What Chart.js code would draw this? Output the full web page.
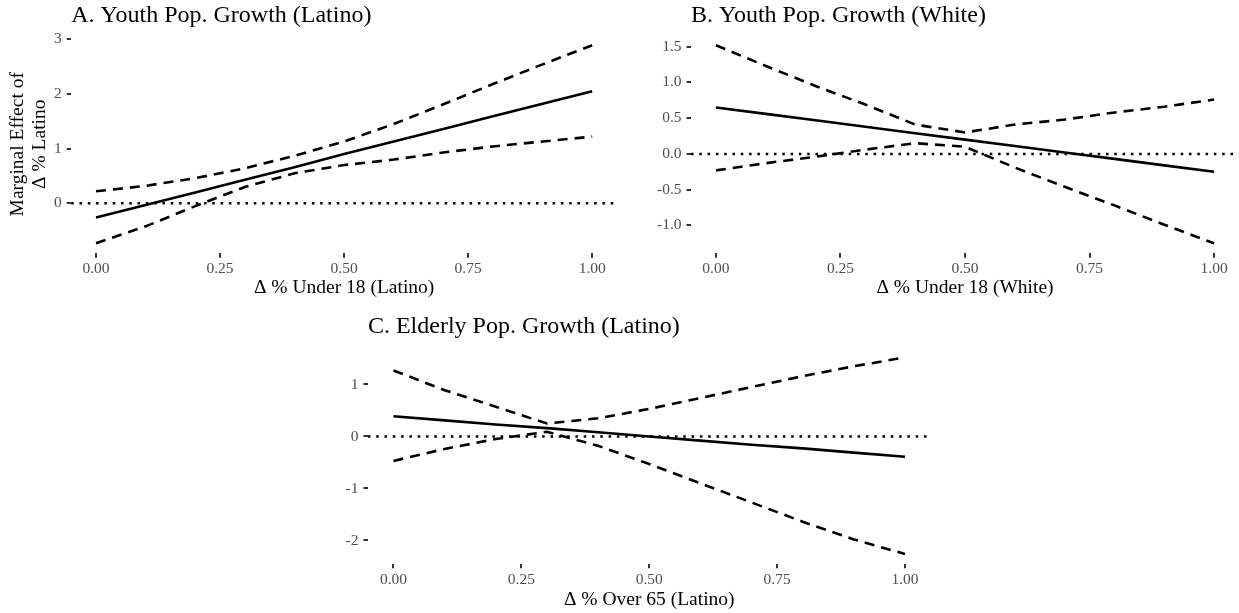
<!DOCTYPE html>
<html><head><meta charset="utf-8">
<script src="https://cdn.jsdelivr.net/npm/chart.js@4.4.1/dist/chart.umd.min.js"></script>
<style>
html,body{margin:0;padding:0;background:#fff;width:1239px;height:613px;overflow:hidden;position:relative}
canvas{position:absolute;display:block}
</style></head><body>
<canvas id="cA" width="617" height="300" style="left:0px;top:0px"></canvas>
<canvas id="cB" width="619" height="300" style="left:620px;top:0px"></canvas>
<canvas id="cC" width="631" height="313" style="left:300px;top:300px"></canvas>
<script>
// ---- data ----
const xValues = [0, 0.1, 0.2, 0.3, 0.4, 0.5, 0.6, 0.7, 0.8, 0.9, 1.0];
const xTicks = [0, 0.25, 0.5, 0.75, 1];

// Panel A: Youth Pop. Growth (Latino)
const estA   = [-0.26, -0.03, 0.20, 0.43, 0.66, 0.90, 1.13, 1.36, 1.59, 1.82, 2.05];
const upperA = [0.22, 0.32, 0.46, 0.64, 0.87, 1.13, 1.45, 1.81, 2.18, 2.54, 2.89];
const lowerA = [-0.73, -0.42, -0.05, 0.30, 0.55, 0.70, 0.80, 0.93, 1.04, 1.13, 1.22];
const yTicksA = [0, 1, 2, 3];

// Panel B: Youth Pop. Growth (White)
const estB   = [0.65, 0.56, 0.47, 0.38, 0.29, 0.20, 0.11, 0.02, -0.07, -0.16, -0.25];
const upperB = [1.52, 1.23, 0.95, 0.69, 0.41, 0.30, 0.41, 0.48, 0.58, 0.66, 0.76];
const lowerB = [-0.23, -0.13, -0.04, 0.06, 0.15, 0.10, -0.19, -0.46, -0.72, -0.99, -1.25];
const yTicksB = [-1.0, -0.5, 0.0, 0.5, 1.0, 1.5];

// Panel C: Elderly Pop. Growth (Latino)
const estC   = [0.39, 0.31, 0.23, 0.16, 0.08, 0.00, -0.08, -0.16, -0.23, -0.31, -0.39];
const upperC = [1.27, 0.89, 0.57, 0.25, 0.35, 0.53, 0.74, 0.95, 1.16, 1.35, 1.52];
const lowerC = [-0.47, -0.24, -0.05, 0.09, -0.18, -0.53, -0.90, -1.27, -1.64, -1.98, -2.26];
const yTicksC = [-2, -1, 0, 1];

const titles = ['A. Youth Pop. Growth (Latino)', 'B. Youth Pop. Growth (White)', 'C. Elderly Pop. Growth (Latino)'];
const xTitles = ['\u0394 % Under 18 (Latino)', '\u0394 % Under 18 (White)', '\u0394 % Over 65 (Latino)'];
const yTitleA = ['Marginal Effect of', '\u0394 % Latino'];

// ---- styling ----
const SERIF = "'Liberation Serif', 'DejaVu Serif', 'Times New Roman', serif";

const zeroLine = {
  id: 'zeroLine',
  beforeDatasetsDraw(chart) {
    const {ctx, chartArea: a, scales: {y}} = chart;
    const py = y.getPixelForValue(0);
    ctx.save();
    ctx.strokeStyle = '#000';
    ctx.lineWidth = 2.5;
    ctx.setLineDash([2.5, 5.8]);
    ctx.beginPath();
    ctx.moveTo(a.left, py);
    ctx.lineTo(a.right, py);
    ctx.stroke();
    ctx.restore();
  }
};

function pts(ys) { return xValues.map((x, i) => ({x: x, y: ys[i]})); }

function makePanel(id, cfg) {
  const all = cfg.est.concat(cfg.up, cfg.lo);
  const lo = Math.min(...all), hi = Math.max(...all), span = hi - lo;
  const lineBase = {pointRadius: 0, borderColor: '#000', tension: 0, fill: false, borderCapStyle: 'butt'};
  new Chart(document.getElementById(id), {
    type: 'line',
    data: {
      datasets: [
        Object.assign({label: 'upper', data: pts(cfg.up), borderWidth: 2.6, borderDash: [10, 7]}, lineBase),
        Object.assign({label: 'lower', data: pts(cfg.lo), borderWidth: 2.6, borderDash: [10, 7]}, lineBase),
        Object.assign({label: 'estimate', data: pts(cfg.est), borderWidth: 2.6}, lineBase)
      ]
    },
    options: {
      responsive: false,
      animation: false,
      devicePixelRatio: 1,
      layout: {padding: {left: 0, right: cfg.padRight || 0, top: 0, bottom: 0}},
      plugins: {
        legend: {display: false},
        tooltip: {enabled: false},
        title: {
          display: true, text: cfg.title, align: 'start', fullSize: false,
          color: '#000', font: {family: SERIF, size: 24, weight: 'normal', lineHeight: 1.2},
          padding: {top: cfg.titleTop, bottom: cfg.titleBottom}
        }
      },
      scales: {
        x: {
          type: 'linear', min: -0.05, max: 1.05,
          afterBuildTicks: s => { s.ticks = xTicks.map(v => ({value: v})); },
          afterFit: s => { s.height = cfg.xH; },
          ticks: {
            autoSkip: false, maxRotation: 0, padding: 2, color: '#4D4D4D',
            font: {family: SERIF, size: 15.5, lineHeight: 1.2},
            callback: v => Number(v).toFixed(2)
          },
          grid: {display: true, drawOnChartArea: false, drawTicks: true, tickLength: 4.5, color: '#333', lineWidth: 2},
          border: {display: false},
          title: {display: true, text: cfg.xTitle, color: '#000', font: {family: SERIF, size: 19.5, lineHeight: 1.2}, padding: {top: 0, bottom: cfg.xTitlePad}}
        },
        y: {
          type: 'linear', min: lo - 0.05 * span, max: hi + 0.05 * span,
          afterBuildTicks: s => { s.ticks = cfg.yTicks.map(v => ({value: v})); },
          afterFit: s => { s.width = cfg.yW; },
          ticks: {
            padding: 5, color: '#4D4D4D',
            font: {family: SERIF, size: 15.5, lineHeight: 1.2},
            callback: v => Number(v).toFixed(cfg.yDec)
          },
          grid: {display: true, drawOnChartArea: false, drawTicks: true, tickLength: 4.5, color: '#333', lineWidth: 2},
          border: {display: false},
          title: cfg.yTitle ? {display: true, text: cfg.yTitle, color: '#000', font: {family: SERIF, size: 19.5, lineHeight: 1.1}, padding: {top: 7.5, bottom: 0}} : {display: false}
        }
      }
    },
    plugins: [zeroLine]
  });
}

makePanel('cA', {est: estA, up: upperA, lo: lowerA, yTicks: yTicksA, yDec: 0, title: titles[0], xTitle: xTitles[0], yTitle: yTitleA,
  yW: 71.2, xH: 46.8, titleTop: 1.1, titleBottom: 5.4, xTitlePad: 0.0});
makePanel('cB', {est: estB, up: upperB, lo: lowerB, yTicks: yTicksB, yDec: 1, title: titles[1], xTitle: xTitles[1], yTitle: null,
  yW: 71, xH: 46.8, titleTop: 1.1, titleBottom: 5.4, xTitlePad: 0.0});
makePanel('cC', {est: estC, up: upperC, lo: lowerC, yTicks: yTicksC, yDec: 0, title: titles[2], xTitle: xTitles[2], yTitle: null,
  yW: 67.9, xH: 49.2, titleTop: 12.6, titleBottom: 6.2, xTitlePad: 1.3, padRight: 0.4});
</script>
</body></html>
